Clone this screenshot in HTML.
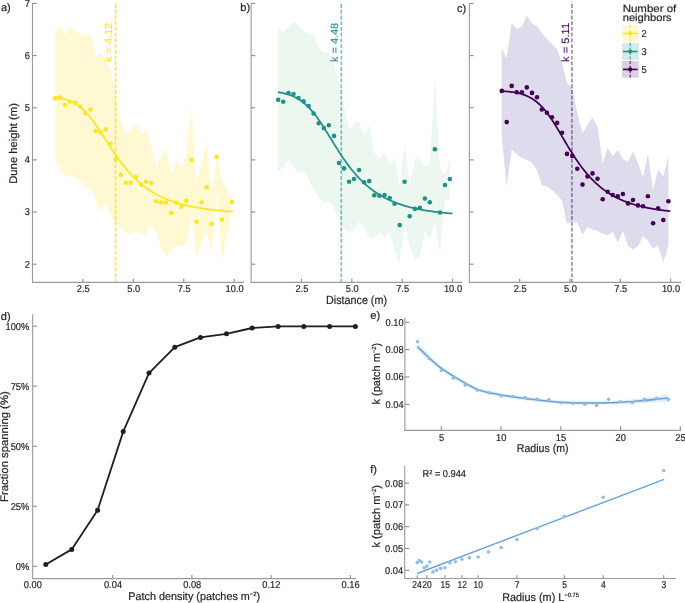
<!DOCTYPE html>
<html><head><meta charset="utf-8"><style>
html,body{margin:0;padding:0;background:#fff;}
svg{display:block;font-family:"Liberation Sans", sans-serif;will-change:transform;text-rendering:geometricPrecision;}
text{stroke-width:0.2px;paint-order:stroke;}
</style></head><body>
<svg width="685" height="603" viewBox="0 0 685 603">
<polygon points="55.3,34 60.3,25 65.4,35 70.4,26.6 75.5,30.5 80.5,34.5 85.6,36.5 90.6,33.2 95.7,60.6 100.7,51.8 105.8,61 110.8,70 115.9,98 120.9,121 126,133.8 131,129.7 136,123.5 141.1,134.6 146.1,129.3 151.2,146 156.2,168 161.3,155 166.3,149 171.4,175 176.4,160.7 181.5,166.5 186.5,155 191.6,107.3 196.6,183 201.7,163 206.7,144.3 211.8,193 216.8,157 221.9,180 226.9,190 232,199.7 232,207.5 226.9,237.3 221.9,261 216.8,192 211.8,252.2 206.7,231.2 201.7,242.6 196.6,258.3 191.6,214.5 186.5,243.4 181.5,246.4 176.4,246.4 171.4,250.4 166.3,257 161.3,247.8 156.2,233 151.2,224.2 146.1,233.8 141.1,233.8 136,231.5 131,234.5 126,232 120.9,229.6 115.9,223 110.8,216.3 105.8,201.4 100.7,211.7 95.7,200 90.6,186.5 85.6,189 80.5,180 75.5,177 70.4,176.5 65.4,175 60.3,170 55.3,162.4" fill="#fef8d3"/>
<line x1="115.6" y1="1.8" x2="115.6" y2="282.6" stroke="#fde725" stroke-width="1.6" stroke-opacity="0.95" stroke-dasharray="3.85 1.88" stroke-dashoffset="3.45"/>
<path d="M54.90,96.92 L56.40,97.15 L57.91,97.41 L59.41,97.70 L60.91,98.03 L62.41,98.39 L63.92,98.80 L65.42,99.25 L66.92,99.75 L68.42,100.31 L69.93,100.93 L71.43,101.62 L72.93,102.37 L74.43,103.20 L75.94,104.11 L77.44,105.10 L78.94,106.19 L80.44,107.36 L81.95,108.63 L83.45,110.00 L84.95,111.47 L86.45,113.03 L87.96,114.70 L89.46,116.45 L90.96,118.30 L92.46,120.24 L93.97,122.25 L95.47,124.34 L96.97,126.50 L98.47,128.71 L99.98,130.96 L101.48,133.26 L102.98,135.57 L104.48,137.91 L105.99,140.25 L107.49,142.60 L108.99,144.93 L110.49,147.24 L112.00,149.52 L113.50,151.78 L115.00,153.99 L116.50,156.16 L118.01,158.29 L119.51,160.36 L121.01,162.39 L122.51,164.35 L124.02,166.26 L125.52,168.11 L127.02,169.91 L128.52,171.64 L130.03,173.32 L131.53,174.94 L133.03,176.50 L134.53,178.00 L136.04,179.45 L137.54,180.85 L139.04,182.19 L140.54,183.48 L142.05,184.72 L143.55,185.92 L145.05,187.06 L146.55,188.16 L148.06,189.22 L149.56,190.24 L151.06,191.21 L152.56,192.15 L154.07,193.04 L155.57,193.90 L157.07,194.73 L158.57,195.52 L160.08,196.28 L161.58,197.00 L163.08,197.70 L164.58,198.37 L166.09,199.01 L167.59,199.63 L169.09,200.22 L170.59,200.78 L172.10,201.32 L173.60,201.84 L175.10,202.34 L176.60,202.81 L178.11,203.27 L179.61,203.71 L181.11,204.13 L182.61,204.53 L184.12,204.92 L185.62,205.28 L187.12,205.64 L188.62,205.98 L190.13,206.30 L191.63,206.61 L193.13,206.91 L194.63,207.20 L196.14,207.47 L197.64,207.73 L199.14,207.99 L200.64,208.23 L202.15,208.46 L203.65,208.68 L205.15,208.89 L206.65,209.09 L208.16,209.29 L209.66,209.48 L211.16,209.65 L212.66,209.83 L214.17,209.99 L215.67,210.15 L217.17,210.30 L218.67,210.44 L220.18,210.58 L221.68,210.71 L223.18,210.84 L224.68,210.96 L226.19,211.08 L227.69,211.19 L229.19,211.30 L230.69,211.40 L232.20,211.50 L233.70,211.59" fill="none" stroke="#fde725" stroke-width="1.75"/>
<circle cx="54.9" cy="98.4" r="2.3" fill="#fde725"/>
<circle cx="60.0" cy="97.6" r="2.3" fill="#fde725"/>
<circle cx="65.0" cy="105.0" r="2.3" fill="#fde725"/>
<circle cx="69.9" cy="101.7" r="2.3" fill="#fde725"/>
<circle cx="75.2" cy="102.9" r="2.3" fill="#fde725"/>
<circle cx="80.2" cy="106.8" r="2.3" fill="#fde725"/>
<circle cx="85.2" cy="113.2" r="2.3" fill="#fde725"/>
<circle cx="90.5" cy="109.5" r="2.3" fill="#fde725"/>
<circle cx="95.5" cy="131.1" r="2.3" fill="#fde725"/>
<circle cx="100.4" cy="132.1" r="2.3" fill="#fde725"/>
<circle cx="105.7" cy="129.4" r="2.3" fill="#fde725"/>
<circle cx="110.6" cy="143.7" r="2.3" fill="#fde725"/>
<circle cx="115.6" cy="159.4" r="2.3" fill="#fde725"/>
<circle cx="120.8" cy="174.9" r="2.3" fill="#fde725"/>
<circle cx="125.7" cy="182.8" r="2.3" fill="#fde725"/>
<circle cx="130.7" cy="182.8" r="2.3" fill="#fde725"/>
<circle cx="135.9" cy="177" r="2.3" fill="#fde725"/>
<circle cx="141.3" cy="184.7" r="2.3" fill="#fde725"/>
<circle cx="146.1" cy="181.7" r="2.3" fill="#fde725"/>
<circle cx="151.1" cy="183.1" r="2.3" fill="#fde725"/>
<circle cx="156.1" cy="201.3" r="2.3" fill="#fde725"/>
<circle cx="161.1" cy="202.5" r="2.3" fill="#fde725"/>
<circle cx="166" cy="202.5" r="2.3" fill="#fde725"/>
<circle cx="171.2" cy="213" r="2.3" fill="#fde725"/>
<circle cx="176.2" cy="202.7" r="2.3" fill="#fde725"/>
<circle cx="181.4" cy="206.7" r="2.3" fill="#fde725"/>
<circle cx="186.3" cy="200.8" r="2.3" fill="#fde725"/>
<circle cx="191.4" cy="159.9" r="2.3" fill="#fde725"/>
<circle cx="196.5" cy="221.8" r="2.3" fill="#fde725"/>
<circle cx="201.6" cy="202.5" r="2.3" fill="#fde725"/>
<circle cx="206.7" cy="187.2" r="2.3" fill="#fde725"/>
<circle cx="211.6" cy="223.7" r="2.3" fill="#fde725"/>
<circle cx="216.6" cy="156.9" r="2.3" fill="#fde725"/>
<circle cx="221.9" cy="219.7" r="2.3" fill="#fde725"/>
<circle cx="232" cy="201.8" r="2.3" fill="#fde725"/>
<line x1="32.5" y1="264.2" x2="36.7" y2="264.2" stroke="#8c8c8c" stroke-width="1.1"/>
<text transform="translate(30,267.5) scale(0.93,1)" font-size="10.0" text-anchor="end" fill="#231f20" stroke="#231f20">2</text>
<line x1="32.5" y1="212.05" x2="36.7" y2="212.05" stroke="#8c8c8c" stroke-width="1.1"/>
<text transform="translate(30,215.35) scale(0.93,1)" font-size="10.0" text-anchor="end" fill="#231f20" stroke="#231f20">3</text>
<line x1="32.5" y1="159.9" x2="36.7" y2="159.9" stroke="#8c8c8c" stroke-width="1.1"/>
<text transform="translate(30,163.2) scale(0.93,1)" font-size="10.0" text-anchor="end" fill="#231f20" stroke="#231f20">4</text>
<line x1="32.5" y1="107.75" x2="36.7" y2="107.75" stroke="#8c8c8c" stroke-width="1.1"/>
<text transform="translate(30,111.05) scale(0.93,1)" font-size="10.0" text-anchor="end" fill="#231f20" stroke="#231f20">5</text>
<line x1="32.5" y1="55.6" x2="36.7" y2="55.6" stroke="#8c8c8c" stroke-width="1.1"/>
<text transform="translate(30,58.9) scale(0.93,1)" font-size="10.0" text-anchor="end" fill="#231f20" stroke="#231f20">6</text>
<line x1="32.5" y1="3.45" x2="36.7" y2="3.45" stroke="#8c8c8c" stroke-width="1.1"/>
<text transform="translate(30,6.75) scale(0.93,1)" font-size="10.0" text-anchor="end" fill="#231f20" stroke="#231f20">7</text>
<line x1="82.85" y1="278.7" x2="82.85" y2="282.4" stroke="#8c8c8c" stroke-width="1.1"/>
<text transform="translate(83.25,291.7) scale(0.93,1)" font-size="10.0" text-anchor="middle" fill="#231f20" stroke="#231f20">2.5</text>
<line x1="133.3" y1="278.7" x2="133.3" y2="282.4" stroke="#8c8c8c" stroke-width="1.1"/>
<text transform="translate(133.7,291.7) scale(0.93,1)" font-size="10.0" text-anchor="middle" fill="#231f20" stroke="#231f20">5.0</text>
<line x1="183.75" y1="278.7" x2="183.75" y2="282.4" stroke="#8c8c8c" stroke-width="1.1"/>
<text transform="translate(184.15,291.7) scale(0.93,1)" font-size="10.0" text-anchor="middle" fill="#231f20" stroke="#231f20">7.5</text>
<line x1="234.2" y1="278.7" x2="234.2" y2="282.4" stroke="#8c8c8c" stroke-width="1.1"/>
<text transform="translate(234.6,291.7) scale(0.93,1)" font-size="10.0" text-anchor="middle" fill="#231f20" stroke="#231f20">10.0</text>
<line x1="32.5" y1="3" x2="32.5" y2="282.9" stroke="#9a9a9a" stroke-width="1.1"/>
<line x1="32" y1="282.4" x2="243.9" y2="282.4" stroke="#9a9a9a" stroke-width="1.1"/>
<text transform="translate(112.4,61.9) rotate(-90)" font-size="10.5" text-anchor="start" fill="#fde725" stroke="#fde725" style="stroke-width:0.15px" textLength="39" lengthAdjust="spacingAndGlyphs">k = 4.12</text>
<polygon points="277.9,28.2 283.2,32.4 288.5,26.6 294,20.8 299,25.8 303.6,31.6 308.6,33.2 313.6,35.7 318.7,48.1 323.8,53.1 328.8,51.5 334,63.1 338.9,84.6 344.1,106 349.1,129.8 354,123 359.1,121 364.1,135.6 369.2,125.6 374.2,153 379.4,159.3 384.6,152 389.7,164.8 394.6,157.5 399.7,184.9 404.6,142.9 409.7,184.9 414.9,158.4 419.8,158.4 424.9,166.6 429.8,164.8 434.9,77.4 440,168.5 445,173.7 449.9,157.5 449.9,200 445,199.5 440,253.9 434.9,222.9 429.8,238.4 424.9,230.2 419.8,257.6 414.9,259.4 409.7,246.6 404.6,224.7 399.7,263.1 394.6,250.3 389.7,232 384.6,237.5 379.4,233 374.2,238.4 369.2,237.5 364.1,228.4 359.1,222 354,229.7 349.1,232.7 344.1,229.7 338.9,219.8 334,207.3 328.8,200.7 323.8,202.3 318.7,197.4 313.6,189.9 308.6,179 303.6,171.5 299,172.1 294,168 288.5,159.7 283.2,168 277.9,171.3" fill="#ecf7ef"/>
<line x1="341.3" y1="1.8" x2="341.3" y2="282.6" stroke="#21908d" stroke-width="1.6" stroke-opacity="0.6" stroke-dasharray="3.85 1.88" stroke-dashoffset="3.45"/>
<path d="M277.90,92.19 L279.37,92.43 L280.84,92.69 L282.30,92.98 L283.77,93.30 L285.24,93.66 L286.71,94.05 L288.18,94.49 L289.64,94.97 L291.11,95.51 L292.58,96.09 L294.05,96.74 L295.52,97.45 L296.98,98.23 L298.45,99.08 L299.92,100.01 L301.39,101.02 L302.86,102.11 L304.33,103.29 L305.79,104.56 L307.26,105.92 L308.73,107.38 L310.20,108.94 L311.67,110.58 L313.13,112.33 L314.60,114.16 L316.07,116.08 L317.54,118.08 L319.01,120.15 L320.47,122.30 L321.94,124.50 L323.41,126.77 L324.88,129.07 L326.35,131.41 L327.81,133.78 L329.28,136.17 L330.75,138.56 L332.22,140.96 L333.69,143.35 L335.15,145.72 L336.62,148.06 L338.09,150.38 L339.56,152.66 L341.03,154.91 L342.49,157.11 L343.96,159.26 L345.43,161.36 L346.90,163.40 L348.37,165.39 L349.84,167.33 L351.30,169.20 L352.77,171.02 L354.24,172.78 L355.71,174.48 L357.18,176.13 L358.64,177.71 L360.11,179.25 L361.58,180.72 L363.05,182.14 L364.52,183.51 L365.98,184.83 L367.45,186.10 L368.92,187.32 L370.39,188.49 L371.86,189.62 L373.32,190.70 L374.79,191.74 L376.26,192.74 L377.73,193.70 L379.20,194.62 L380.66,195.50 L382.13,196.35 L383.60,197.16 L385.07,197.94 L386.54,198.69 L388.01,199.41 L389.47,200.10 L390.94,200.76 L392.41,201.39 L393.88,202.00 L395.35,202.58 L396.81,203.14 L398.28,203.68 L399.75,204.19 L401.22,204.68 L402.69,205.16 L404.15,205.61 L405.62,206.04 L407.09,206.46 L408.56,206.86 L410.03,207.24 L411.49,207.61 L412.96,207.96 L414.43,208.30 L415.90,208.62 L417.37,208.93 L418.83,209.22 L420.30,209.51 L421.77,209.78 L423.24,210.04 L424.71,210.29 L426.17,210.53 L427.64,210.77 L429.11,210.99 L430.58,211.20 L432.05,211.40 L433.52,211.60 L434.98,211.78 L436.45,211.96 L437.92,212.13 L439.39,212.30 L440.86,212.45 L442.32,212.60 L443.79,212.75 L445.26,212.89 L446.73,213.02 L448.20,213.15 L449.66,213.27 L451.13,213.39 L452.60,213.50" fill="none" stroke="#21908d" stroke-width="1.75"/>
<circle cx="278.2" cy="99.8" r="2.3" fill="#21908d"/>
<circle cx="283.2" cy="101.8" r="2.3" fill="#21908d"/>
<circle cx="288.5" cy="93" r="2.3" fill="#21908d"/>
<circle cx="293.5" cy="94.1" r="2.3" fill="#21908d"/>
<circle cx="298.5" cy="98" r="2.3" fill="#21908d"/>
<circle cx="303.6" cy="101.4" r="2.3" fill="#21908d"/>
<circle cx="308.6" cy="106" r="2.3" fill="#21908d"/>
<circle cx="313.6" cy="113.5" r="2.3" fill="#21908d"/>
<circle cx="318.7" cy="123.2" r="2.3" fill="#21908d"/>
<circle cx="323.8" cy="128.1" r="2.3" fill="#21908d"/>
<circle cx="328.8" cy="125.3" r="2.3" fill="#21908d"/>
<circle cx="334" cy="135.9" r="2.3" fill="#21908d"/>
<circle cx="338.9" cy="163" r="2.3" fill="#21908d"/>
<circle cx="344.1" cy="168.4" r="2.3" fill="#21908d"/>
<circle cx="349.1" cy="181.7" r="2.3" fill="#21908d"/>
<circle cx="354" cy="179" r="2.3" fill="#21908d"/>
<circle cx="359.1" cy="170" r="2.3" fill="#21908d"/>
<circle cx="364.1" cy="182.2" r="2.3" fill="#21908d"/>
<circle cx="369.2" cy="181.1" r="2.3" fill="#21908d"/>
<circle cx="374.2" cy="195.2" r="2.3" fill="#21908d"/>
<circle cx="379.4" cy="195.8" r="2.3" fill="#21908d"/>
<circle cx="384.6" cy="195" r="2.3" fill="#21908d"/>
<circle cx="389.7" cy="198" r="2.3" fill="#21908d"/>
<circle cx="394.6" cy="203.8" r="2.3" fill="#21908d"/>
<circle cx="399.7" cy="225.1" r="2.3" fill="#21908d"/>
<circle cx="404.6" cy="181.8" r="2.3" fill="#21908d"/>
<circle cx="409.7" cy="216.2" r="2.3" fill="#21908d"/>
<circle cx="414.9" cy="208.9" r="2.3" fill="#21908d"/>
<circle cx="419.8" cy="207.8" r="2.3" fill="#21908d"/>
<circle cx="424.9" cy="198.6" r="2.3" fill="#21908d"/>
<circle cx="429.8" cy="202.3" r="2.3" fill="#21908d"/>
<circle cx="434.9" cy="149.3" r="2.3" fill="#21908d"/>
<circle cx="440" cy="212.5" r="2.3" fill="#21908d"/>
<circle cx="445" cy="185" r="2.3" fill="#21908d"/>
<circle cx="449.9" cy="179.1" r="2.3" fill="#21908d"/>
<line x1="251.1" y1="264.2" x2="255.3" y2="264.2" stroke="#8c8c8c" stroke-width="1.1"/>
<line x1="251.1" y1="212.05" x2="255.3" y2="212.05" stroke="#8c8c8c" stroke-width="1.1"/>
<line x1="251.1" y1="159.9" x2="255.3" y2="159.9" stroke="#8c8c8c" stroke-width="1.1"/>
<line x1="251.1" y1="107.75" x2="255.3" y2="107.75" stroke="#8c8c8c" stroke-width="1.1"/>
<line x1="251.1" y1="55.6" x2="255.3" y2="55.6" stroke="#8c8c8c" stroke-width="1.1"/>
<line x1="251.1" y1="3.45" x2="255.3" y2="3.45" stroke="#8c8c8c" stroke-width="1.1"/>
<line x1="301.48" y1="278.7" x2="301.48" y2="282.4" stroke="#8c8c8c" stroke-width="1.1"/>
<text transform="translate(301.88,291.7) scale(0.93,1)" font-size="10.0" text-anchor="middle" fill="#231f20" stroke="#231f20">2.5</text>
<line x1="351.85" y1="278.7" x2="351.85" y2="282.4" stroke="#8c8c8c" stroke-width="1.1"/>
<text transform="translate(352.25,291.7) scale(0.93,1)" font-size="10.0" text-anchor="middle" fill="#231f20" stroke="#231f20">5.0</text>
<line x1="402.23" y1="278.7" x2="402.23" y2="282.4" stroke="#8c8c8c" stroke-width="1.1"/>
<text transform="translate(402.62,291.7) scale(0.93,1)" font-size="10.0" text-anchor="middle" fill="#231f20" stroke="#231f20">7.5</text>
<line x1="452.6" y1="278.7" x2="452.6" y2="282.4" stroke="#8c8c8c" stroke-width="1.1"/>
<text transform="translate(453,291.7) scale(0.93,1)" font-size="10.0" text-anchor="middle" fill="#231f20" stroke="#231f20">10.0</text>
<line x1="251.1" y1="3" x2="251.1" y2="282.9" stroke="#9a9a9a" stroke-width="1.1"/>
<line x1="250.6" y1="282.4" x2="462.5" y2="282.4" stroke="#9a9a9a" stroke-width="1.1"/>
<text transform="translate(338.1,61.9) rotate(-90)" font-size="10.5" text-anchor="start" fill="#21908d" stroke="#21908d" style="stroke-width:0.15px" textLength="39" lengthAdjust="spacingAndGlyphs">k = 4.48</text>
<polygon points="501.6,49 506.6,58.1 511.7,22.9 516.7,29.1 521.8,26.6 526.8,15.5 532,23.6 537,25.8 542,33.2 547,39 552,44 557.1,49.8 562.1,63.1 567,83 572.3,87.9 577.3,113 582.5,133.2 587.5,125 592.5,117.4 597.5,126.5 602.7,163 607.7,148 612.7,156.4 617.8,149.8 622.9,159 628,161.6 633,151.4 638,163 643,177 648,153.8 653,190 658.2,170 663.3,176.3 668.4,156.4 668.4,245.6 663.3,262.5 658.2,245.6 653,248.6 648,240.6 643,235.7 638,246.6 633,249.6 628,246 622.9,230.7 617.8,242.6 612.7,231.7 607.7,235.3 602.7,233.7 597.5,230.7 592.5,229.7 587.5,226.7 582.5,234.7 577.3,222.7 572.3,221.7 567,223.7 562.1,201 557.1,194.5 552,190.4 547,186.3 542,185.5 537,170 532,162.7 526.8,159.8 521.8,158.1 516.7,154 511.7,149.8 506.6,186.3 501.6,135" fill="#dedbec"/>
<line x1="571.9" y1="1.8" x2="571.9" y2="282.6" stroke="#440154" stroke-width="1.6" stroke-opacity="0.5" stroke-dasharray="3.85 1.88" stroke-dashoffset="3.45"/>
<path d="M500.50,90.98 L501.93,91.06 L503.36,91.16 L504.78,91.26 L506.21,91.38 L507.64,91.52 L509.07,91.67 L510.49,91.84 L511.92,92.03 L513.35,92.24 L514.78,92.47 L516.21,92.74 L517.63,93.04 L519.06,93.37 L520.49,93.74 L521.92,94.15 L523.34,94.60 L524.77,95.11 L526.20,95.67 L527.63,96.29 L529.05,96.98 L530.48,97.73 L531.91,98.56 L533.34,99.47 L534.77,100.46 L536.19,101.54 L537.62,102.71 L539.05,103.98 L540.48,105.35 L541.90,106.81 L543.33,108.38 L544.76,110.05 L546.19,111.81 L547.62,113.67 L549.04,115.63 L550.47,117.67 L551.90,119.79 L553.33,121.98 L554.75,124.23 L556.18,126.54 L557.61,128.90 L559.04,131.29 L560.46,133.71 L561.89,136.14 L563.32,138.57 L564.75,141.01 L566.18,143.43 L567.60,145.83 L569.03,148.20 L570.46,150.53 L571.89,152.83 L573.31,155.08 L574.74,157.29 L576.17,159.44 L577.60,161.53 L579.03,163.57 L580.45,165.55 L581.88,167.47 L583.31,169.33 L584.74,171.13 L586.16,172.86 L587.59,174.54 L589.02,176.16 L590.45,177.72 L591.87,179.22 L593.30,180.67 L594.73,182.06 L596.16,183.39 L597.59,184.68 L599.01,185.91 L600.44,187.10 L601.87,188.24 L603.30,189.33 L604.72,190.38 L606.15,191.39 L607.58,192.36 L609.01,193.28 L610.44,194.17 L611.86,195.03 L613.29,195.84 L614.72,196.63 L616.15,197.38 L617.57,198.10 L619.00,198.79 L620.43,199.45 L621.86,200.08 L623.28,200.69 L624.71,201.27 L626.14,201.83 L627.57,202.36 L629.00,202.87 L630.42,203.36 L631.85,203.83 L633.28,204.28 L634.71,204.72 L636.13,205.13 L637.56,205.52 L638.99,205.90 L640.42,206.27 L641.85,206.61 L643.27,206.95 L644.70,207.27 L646.13,207.57 L647.56,207.87 L648.98,208.15 L650.41,208.42 L651.84,208.67 L653.27,208.92 L654.69,209.16 L656.12,209.38 L657.55,209.60 L658.98,209.81 L660.41,210.01 L661.83,210.20 L663.26,210.38 L664.69,210.55 L666.12,210.72 L667.54,210.88 L668.97,211.03 L670.40,211.18" fill="none" stroke="#440154" stroke-width="1.75"/>
<circle cx="501.8" cy="90.9" r="2.3" fill="#440154"/>
<circle cx="506.7" cy="122.1" r="2.3" fill="#440154"/>
<circle cx="511.7" cy="85.9" r="2.3" fill="#440154"/>
<circle cx="516.7" cy="92.2" r="2.3" fill="#440154"/>
<circle cx="521.9" cy="92.2" r="2.3" fill="#440154"/>
<circle cx="526.8" cy="87.4" r="2.3" fill="#440154"/>
<circle cx="532" cy="92.9" r="2.3" fill="#440154"/>
<circle cx="537" cy="97.2" r="2.3" fill="#440154"/>
<circle cx="541.8" cy="109.5" r="2.3" fill="#440154"/>
<circle cx="546.9" cy="112.8" r="2.3" fill="#440154"/>
<circle cx="552" cy="117.3" r="2.3" fill="#440154"/>
<circle cx="557.1" cy="122.9" r="2.3" fill="#440154"/>
<circle cx="562.1" cy="132.7" r="2.3" fill="#440154"/>
<circle cx="567" cy="153.9" r="2.3" fill="#440154"/>
<circle cx="572.3" cy="155.9" r="2.3" fill="#440154"/>
<circle cx="577.3" cy="168.8" r="2.3" fill="#440154"/>
<circle cx="582.5" cy="184.6" r="2.3" fill="#440154"/>
<circle cx="587.5" cy="176.4" r="2.3" fill="#440154"/>
<circle cx="592.5" cy="173.4" r="2.3" fill="#440154"/>
<circle cx="597.5" cy="178.7" r="2.3" fill="#440154"/>
<circle cx="602.7" cy="199.2" r="2.3" fill="#440154"/>
<circle cx="607.7" cy="191.7" r="2.3" fill="#440154"/>
<circle cx="612.7" cy="195" r="2.3" fill="#440154"/>
<circle cx="617.8" cy="196.2" r="2.3" fill="#440154"/>
<circle cx="622.9" cy="194" r="2.3" fill="#440154"/>
<circle cx="628" cy="203.4" r="2.3" fill="#440154"/>
<circle cx="633" cy="200" r="2.3" fill="#440154"/>
<circle cx="638" cy="205.4" r="2.3" fill="#440154"/>
<circle cx="643" cy="206.2" r="2.3" fill="#440154"/>
<circle cx="647.9" cy="196.3" r="2.3" fill="#440154"/>
<circle cx="653.1" cy="223.3" r="2.3" fill="#440154"/>
<circle cx="658.1" cy="208.2" r="2.3" fill="#440154"/>
<circle cx="663.3" cy="220" r="2.3" fill="#440154"/>
<circle cx="668.4" cy="201.2" r="2.3" fill="#440154"/>
<line x1="469.4" y1="264.2" x2="473.6" y2="264.2" stroke="#8c8c8c" stroke-width="1.1"/>
<line x1="469.4" y1="212.05" x2="473.6" y2="212.05" stroke="#8c8c8c" stroke-width="1.1"/>
<line x1="469.4" y1="159.9" x2="473.6" y2="159.9" stroke="#8c8c8c" stroke-width="1.1"/>
<line x1="469.4" y1="107.75" x2="473.6" y2="107.75" stroke="#8c8c8c" stroke-width="1.1"/>
<line x1="469.4" y1="55.6" x2="473.6" y2="55.6" stroke="#8c8c8c" stroke-width="1.1"/>
<line x1="469.4" y1="3.45" x2="473.6" y2="3.45" stroke="#8c8c8c" stroke-width="1.1"/>
<line x1="519.7" y1="278.7" x2="519.7" y2="282.4" stroke="#8c8c8c" stroke-width="1.1"/>
<text transform="translate(520.1,291.7) scale(0.93,1)" font-size="10.0" text-anchor="middle" fill="#231f20" stroke="#231f20">2.5</text>
<line x1="570" y1="278.7" x2="570" y2="282.4" stroke="#8c8c8c" stroke-width="1.1"/>
<text transform="translate(570.4,291.7) scale(0.93,1)" font-size="10.0" text-anchor="middle" fill="#231f20" stroke="#231f20">5.0</text>
<line x1="620.3" y1="278.7" x2="620.3" y2="282.4" stroke="#8c8c8c" stroke-width="1.1"/>
<text transform="translate(620.7,291.7) scale(0.93,1)" font-size="10.0" text-anchor="middle" fill="#231f20" stroke="#231f20">7.5</text>
<line x1="670.6" y1="278.7" x2="670.6" y2="282.4" stroke="#8c8c8c" stroke-width="1.1"/>
<text transform="translate(671,291.7) scale(0.93,1)" font-size="10.0" text-anchor="middle" fill="#231f20" stroke="#231f20">10.0</text>
<line x1="469.4" y1="3" x2="469.4" y2="282.9" stroke="#9a9a9a" stroke-width="1.1"/>
<line x1="468.9" y1="282.4" x2="680.9" y2="282.4" stroke="#9a9a9a" stroke-width="1.1"/>
<text transform="translate(568.7,61.9) rotate(-90)" font-size="10.5" text-anchor="start" fill="#440154" stroke="#440154" style="stroke-width:0.15px" textLength="39" lengthAdjust="spacingAndGlyphs">k = 5.11</text>
<text x="1" y="11" font-size="11" text-anchor="start" fill="#231f20" stroke="#231f20">a)</text>
<text x="240.3" y="10.9" font-size="11" text-anchor="start" fill="#231f20" stroke="#231f20">b)</text>
<text x="457" y="12" font-size="11" text-anchor="start" fill="#231f20" stroke="#231f20">c)</text>
<text transform="translate(17.3,143.4) rotate(-90)" font-size="11.2" text-anchor="middle" fill="#231f20" stroke="#231f20" textLength="80.8" lengthAdjust="spacingAndGlyphs">Dune height (m)</text>
<text x="356.5" y="303.6" font-size="11.8" text-anchor="middle" fill="#231f20" stroke="#231f20" textLength="61" lengthAdjust="spacingAndGlyphs">Distance (m)</text>
<text x="622.7" y="11.9" font-size="10.4" text-anchor="start" fill="#231f20" stroke="#231f20" textLength="53.6" lengthAdjust="spacingAndGlyphs">Number of</text>
<text x="622.7" y="21" font-size="10.4" text-anchor="start" fill="#231f20" stroke="#231f20" textLength="49" lengthAdjust="spacingAndGlyphs">neighbors</text>
<rect x="622" y="25" width="16.7" height="16.7" fill="#fef8d4"/>
<line x1="630.2" y1="25" x2="630.2" y2="41.7" stroke="#fde725" stroke-width="1.2" stroke-opacity="0.75" stroke-dasharray="3 1.5"/>
<line x1="623" y1="33.4" x2="637.6" y2="33.4" stroke="#fde725" stroke-width="1.6"/>
<circle cx="630.2" cy="33.4" r="2.1" fill="#fde725"/>
<text transform="translate(641.6,36.8) scale(0.93,1)" font-size="10.0" text-anchor="start" fill="#231f20" stroke="#231f20">2</text>
<rect x="622" y="43.1" width="16.7" height="16.7" fill="#d6eae9"/>
<line x1="630.2" y1="43.1" x2="630.2" y2="59.8" stroke="#21908d" stroke-width="1.2" stroke-opacity="0.75" stroke-dasharray="3 1.5"/>
<line x1="623" y1="51.5" x2="637.6" y2="51.5" stroke="#21908d" stroke-width="1.6"/>
<circle cx="630.2" cy="51.5" r="2.1" fill="#21908d"/>
<text transform="translate(641.6,54.9) scale(0.93,1)" font-size="10.0" text-anchor="start" fill="#231f20" stroke="#231f20">3</text>
<rect x="622" y="61" width="16.7" height="16.7" fill="#dcd0e1"/>
<line x1="630.2" y1="61" x2="630.2" y2="77.7" stroke="#440154" stroke-width="1.2" stroke-opacity="0.75" stroke-dasharray="3 1.5"/>
<line x1="623" y1="69.4" x2="637.6" y2="69.4" stroke="#440154" stroke-width="1.6"/>
<circle cx="630.2" cy="69.4" r="2.1" fill="#440154"/>
<text transform="translate(641.6,72.8) scale(0.93,1)" font-size="10.0" text-anchor="start" fill="#231f20" stroke="#231f20">5</text>
<line x1="32.7" y1="566.3" x2="36.9" y2="566.3" stroke="#8c8c8c" stroke-width="1.1"/>
<text transform="translate(29.3,569.7) scale(0.93,1)" font-size="10.0" text-anchor="end" fill="#231f20" stroke="#231f20">0%</text>
<line x1="32.7" y1="506.25" x2="36.9" y2="506.25" stroke="#8c8c8c" stroke-width="1.1"/>
<text transform="translate(29.3,509.65) scale(0.93,1)" font-size="10.0" text-anchor="end" fill="#231f20" stroke="#231f20">25%</text>
<line x1="32.7" y1="446.2" x2="36.9" y2="446.2" stroke="#8c8c8c" stroke-width="1.1"/>
<text transform="translate(29.3,449.6) scale(0.93,1)" font-size="10.0" text-anchor="end" fill="#231f20" stroke="#231f20">50%</text>
<line x1="32.7" y1="386.15" x2="36.9" y2="386.15" stroke="#8c8c8c" stroke-width="1.1"/>
<text transform="translate(29.3,389.55) scale(0.93,1)" font-size="10.0" text-anchor="end" fill="#231f20" stroke="#231f20">75%</text>
<line x1="32.7" y1="326.1" x2="36.9" y2="326.1" stroke="#8c8c8c" stroke-width="1.1"/>
<text transform="translate(29.3,329.5) scale(0.93,1)" font-size="10.0" text-anchor="end" fill="#231f20" stroke="#231f20">100%</text>
<text transform="translate(32.9,587.6) scale(0.93,1)" font-size="10.0" text-anchor="middle" fill="#231f20" stroke="#231f20">0.00</text>
<line x1="112.7" y1="574.9" x2="112.7" y2="578.6" stroke="#8c8c8c" stroke-width="1.1"/>
<text transform="translate(113,587.6) scale(0.93,1)" font-size="10.0" text-anchor="middle" fill="#231f20" stroke="#231f20">0.04</text>
<line x1="191.9" y1="574.9" x2="191.9" y2="578.6" stroke="#8c8c8c" stroke-width="1.1"/>
<text transform="translate(192.2,587.6) scale(0.93,1)" font-size="10.0" text-anchor="middle" fill="#231f20" stroke="#231f20">0.08</text>
<line x1="271.1" y1="574.9" x2="271.1" y2="578.6" stroke="#8c8c8c" stroke-width="1.1"/>
<text transform="translate(271.4,587.6) scale(0.93,1)" font-size="10.0" text-anchor="middle" fill="#231f20" stroke="#231f20">0.12</text>
<line x1="350.3" y1="574.9" x2="350.3" y2="578.6" stroke="#8c8c8c" stroke-width="1.1"/>
<text transform="translate(350.6,587.6) scale(0.93,1)" font-size="10.0" text-anchor="middle" fill="#231f20" stroke="#231f20">0.16</text>
<line x1="32.7" y1="314.3" x2="32.7" y2="579.1" stroke="#9a9a9a" stroke-width="1.1"/>
<line x1="32.2" y1="578.6" x2="356.1" y2="578.6" stroke="#9a9a9a" stroke-width="1.1"/>
<polyline points="45.8,564.5 71.7,549.4 97.6,510.2 123.2,431.59999999999997 149.0,373.09999999999997 174.8,347.2 200.4,337.4 226.5,333.79999999999995 252.10000000000002,328.0 278.1,326.4 303.8,326.4 329.6,326.4 355.40000000000003,326.4" fill="none" stroke="#1f1f1f" stroke-width="1.8" stroke-linejoin="round"/>
<circle cx="45.8" cy="564.5" r="2.5" fill="#1f1f1f"/>
<circle cx="71.7" cy="549.4" r="2.5" fill="#1f1f1f"/>
<circle cx="97.6" cy="510.2" r="2.5" fill="#1f1f1f"/>
<circle cx="123.2" cy="431.59999999999997" r="2.5" fill="#1f1f1f"/>
<circle cx="149.0" cy="373.09999999999997" r="2.5" fill="#1f1f1f"/>
<circle cx="174.8" cy="347.2" r="2.5" fill="#1f1f1f"/>
<circle cx="200.4" cy="337.4" r="2.5" fill="#1f1f1f"/>
<circle cx="226.5" cy="333.79999999999995" r="2.5" fill="#1f1f1f"/>
<circle cx="252.10000000000002" cy="328.0" r="2.5" fill="#1f1f1f"/>
<circle cx="278.1" cy="326.4" r="2.5" fill="#1f1f1f"/>
<circle cx="303.8" cy="326.4" r="2.5" fill="#1f1f1f"/>
<circle cx="329.6" cy="326.4" r="2.5" fill="#1f1f1f"/>
<circle cx="355.40000000000003" cy="326.4" r="2.5" fill="#1f1f1f"/>
<text x="0.8" y="320" font-size="11" text-anchor="start" fill="#231f20" stroke="#231f20">d)</text>
<text transform="translate(8.4,446.6) rotate(-90)" font-size="11" text-anchor="middle" fill="#231f20" stroke="#231f20" textLength="110.6" lengthAdjust="spacingAndGlyphs">Fraction spanning (%)</text>
<text x="128.3" y="599.9" font-size="11.2" fill="#231f20" stroke="#231f20" textLength="131.8" lengthAdjust="spacingAndGlyphs">Patch density (patches m<tspan font-size="6" dy="-3.6">−2</tspan><tspan dy="3.6">)</tspan></text>
<line x1="404.9" y1="404.4" x2="409.3" y2="404.4" stroke="#8c8c8c" stroke-width="1.1"/>
<text transform="translate(403.6,407.8) scale(0.93,1)" font-size="10.0" text-anchor="end" fill="#231f20" stroke="#231f20">0.04</text>
<line x1="404.9" y1="377" x2="409.3" y2="377" stroke="#8c8c8c" stroke-width="1.1"/>
<text transform="translate(403.6,380.4) scale(0.93,1)" font-size="10.0" text-anchor="end" fill="#231f20" stroke="#231f20">0.06</text>
<line x1="404.9" y1="349.6" x2="409.3" y2="349.6" stroke="#8c8c8c" stroke-width="1.1"/>
<text transform="translate(403.6,353) scale(0.93,1)" font-size="10.0" text-anchor="end" fill="#231f20" stroke="#231f20">0.08</text>
<line x1="404.9" y1="322.2" x2="409.3" y2="322.2" stroke="#8c8c8c" stroke-width="1.1"/>
<text transform="translate(403.6,325.6) scale(0.93,1)" font-size="10.0" text-anchor="end" fill="#231f20" stroke="#231f20">0.10</text>
<line x1="441.3" y1="426.3" x2="441.3" y2="430.4" stroke="#8c8c8c" stroke-width="1.1"/>
<text transform="translate(441.5,440.7) scale(0.93,1)" font-size="10.0" text-anchor="middle" fill="#231f20" stroke="#231f20">5</text>
<line x1="501.05" y1="426.3" x2="501.05" y2="430.4" stroke="#8c8c8c" stroke-width="1.1"/>
<text transform="translate(501.25,440.7) scale(0.93,1)" font-size="10.0" text-anchor="middle" fill="#231f20" stroke="#231f20">10</text>
<line x1="560.8" y1="426.3" x2="560.8" y2="430.4" stroke="#8c8c8c" stroke-width="1.1"/>
<text transform="translate(561,440.7) scale(0.93,1)" font-size="10.0" text-anchor="middle" fill="#231f20" stroke="#231f20">15</text>
<line x1="620.55" y1="426.3" x2="620.55" y2="430.4" stroke="#8c8c8c" stroke-width="1.1"/>
<text transform="translate(620.75,440.7) scale(0.93,1)" font-size="10.0" text-anchor="middle" fill="#231f20" stroke="#231f20">20</text>
<line x1="680.3" y1="426.3" x2="680.3" y2="430.4" stroke="#8c8c8c" stroke-width="1.1"/>
<text transform="translate(680.5,440.7) scale(0.93,1)" font-size="10.0" text-anchor="middle" fill="#231f20" stroke="#231f20">25</text>
<line x1="404.9" y1="317.5" x2="404.9" y2="430.9" stroke="#9a9a9a" stroke-width="1.1"/>
<line x1="404.4" y1="430.4" x2="681" y2="430.4" stroke="#9a9a9a" stroke-width="1.1"/>
<polygon points="415.34,348.43 417.94,350.87 420.54,353.30 423.14,355.71 425.74,358.09 428.35,360.43 430.97,362.70 433.59,364.91 436.22,367.02 438.86,369.01 441.50,370.87 444.13,372.59 446.74,374.21 449.34,375.76 451.88,377.32 454.42,378.87 456.97,380.42 459.51,381.95 462.06,383.47 464.61,384.96 467.17,386.43 469.75,387.83 472.34,389.15 474.95,390.35 477.57,391.40 480.20,392.29 482.81,393.04 485.40,393.68 487.96,394.26 490.52,394.79 493.07,395.31 495.62,395.81 498.17,396.28 500.72,396.74 503.27,397.17 505.82,397.59 508.37,397.99 510.92,398.37 513.47,398.74 516.01,399.10 518.56,399.45 521.10,399.78 523.64,400.10 526.19,400.42 528.73,400.73 531.27,401.03 533.81,401.33 536.35,401.63 538.88,401.93 541.42,402.22 543.97,402.51 546.51,402.80 549.06,403.07 551.60,403.33 554.15,403.58 556.71,403.80 559.26,404.00 561.82,404.17 564.37,404.32 566.93,404.44 569.48,404.54 572.03,404.62 574.58,404.68 577.12,404.73 579.67,404.77 582.21,404.79 584.76,404.81 587.30,404.82 589.84,404.83 592.38,404.83 594.93,404.82 597.47,404.80 600.02,404.77 602.56,404.73 605.11,404.68 607.65,404.62 610.20,404.54 612.75,404.46 615.30,404.38 617.84,404.30 620.39,404.21 622.94,404.11 625.49,404.01 628.04,403.90 630.59,403.78 633.14,403.66 635.69,403.53 638.25,403.39 640.80,403.25 643.35,403.10 645.90,402.95 648.46,402.79 651.02,402.62 653.57,402.45 656.13,402.26 658.69,402.08 661.24,401.89 663.80,401.69 666.35,401.50 668.90,401.28 668.10,394.53 665.58,394.91 663.05,395.31 660.53,395.70 658.02,396.08 655.50,396.45 652.98,396.81 650.46,397.16 647.94,397.50 645.42,397.83 642.90,398.14 640.38,398.44 637.86,398.73 635.33,399.01 632.81,399.27 630.29,399.52 627.76,399.76 625.24,399.98 622.71,400.19 620.19,400.38 617.66,400.55 615.13,400.70 612.61,400.83 610.08,400.94 607.55,401.02 605.02,401.08 602.50,401.14 599.97,401.17 597.44,401.20 594.91,401.22 592.38,401.23 589.84,401.23 587.31,401.22 584.78,401.21 582.25,401.19 579.71,401.17 577.18,401.13 574.66,401.08 572.13,401.02 569.61,400.94 567.08,400.84 564.56,400.72 562.04,400.58 559.52,400.41 557.00,400.21 554.48,399.99 551.96,399.75 549.43,399.49 546.90,399.22 544.37,398.94 541.84,398.65 539.30,398.35 536.77,398.05 534.23,397.75 531.69,397.46 529.16,397.15 526.63,396.85 524.09,396.53 521.56,396.21 519.03,395.88 516.50,395.53 513.97,395.18 511.45,394.81 508.92,394.43 506.39,394.04 503.87,393.62 501.34,393.19 498.82,392.74 496.30,392.27 493.77,391.78 491.25,391.27 488.73,390.74 486.22,390.18 483.74,389.56 481.27,388.85 478.82,388.02 476.37,387.04 473.91,385.91 471.42,384.65 468.92,383.28 466.41,381.85 463.89,380.37 461.36,378.86 458.83,377.34 456.30,375.80 453.76,374.25 451.23,372.70 448.76,371.06 446.30,369.36 443.85,367.58 441.41,365.68 438.98,363.65 436.53,361.49 434.08,359.23 431.62,356.89 429.15,354.48 426.69,352.02 424.21,349.52 421.74,346.99 419.26,344.45" fill="#d8e7f5" opacity="0.8"/>
<path d="M417.30,346.44 L419.84,348.93 L422.37,351.41 L424.91,353.86 L427.45,356.29 L429.99,358.66 L432.52,360.97 L435.06,363.20 L437.60,365.33 L440.14,367.34 L442.67,369.22 L445.21,370.98 L447.75,372.63 L450.29,374.23 L452.82,375.78 L455.36,377.33 L457.90,378.88 L460.44,380.41 L462.97,381.92 L465.51,383.41 L468.05,384.86 L470.58,386.24 L473.12,387.53 L475.66,388.70 L478.20,389.71 L480.73,390.57 L483.27,391.30 L485.81,391.93 L488.35,392.50 L490.88,393.03 L493.42,393.54 L495.96,394.04 L498.50,394.51 L501.03,394.97 L503.57,395.40 L506.11,395.81 L508.65,396.21 L511.18,396.59 L513.72,396.96 L516.26,397.32 L518.79,397.66 L521.33,397.99 L523.87,398.32 L526.41,398.63 L528.94,398.94 L531.48,399.24 L534.02,399.54 L536.56,399.84 L539.09,400.14 L541.63,400.43 L544.17,400.73 L546.71,401.01 L549.24,401.28 L551.78,401.54 L554.32,401.78 L556.86,402.01 L559.39,402.20 L561.93,402.38 L564.47,402.52 L567.01,402.64 L569.54,402.74 L572.08,402.82 L574.62,402.88 L577.15,402.93 L579.69,402.97 L582.23,402.99 L584.77,403.01 L587.30,403.02 L589.84,403.03 L592.38,403.03 L594.92,403.02 L597.45,403.00 L599.99,402.97 L602.53,402.93 L605.07,402.88 L607.60,402.82 L610.14,402.74 L612.68,402.65 L615.22,402.54 L617.75,402.42 L620.29,402.29 L622.83,402.15 L625.36,401.99 L627.90,401.83 L630.44,401.65 L632.98,401.47 L635.51,401.27 L638.05,401.06 L640.59,400.85 L643.13,400.62 L645.66,400.39 L648.20,400.14 L650.74,399.89 L653.28,399.63 L655.81,399.36 L658.35,399.08 L660.89,398.79 L663.43,398.50 L665.96,398.20 L668.50,397.91" fill="none" stroke="#66a3d8" stroke-width="1.55"/>
<circle cx="417.4" cy="341.7" r="1.8" fill="#92bee5"/>
<circle cx="429.35" cy="358.5" r="1.8" fill="#92bee5"/>
<circle cx="441.3" cy="370.5" r="1.8" fill="#92bee5"/>
<circle cx="453.25" cy="378.1" r="1.8" fill="#92bee5"/>
<circle cx="465.2" cy="385.1" r="1.8" fill="#92bee5"/>
<circle cx="477.15" cy="390.1" r="1.8" fill="#92bee5"/>
<circle cx="489.1" cy="392.9" r="1.8" fill="#92bee5"/>
<circle cx="501.05" cy="396" r="1.8" fill="#92bee5"/>
<circle cx="513" cy="396.5" r="1.8" fill="#92bee5"/>
<circle cx="524.95" cy="397.5" r="1.8" fill="#92bee5"/>
<circle cx="536.9" cy="399" r="1.8" fill="#92bee5"/>
<circle cx="548.85" cy="399.6" r="1.8" fill="#92bee5"/>
<circle cx="560.8" cy="402.8" r="1.8" fill="#92bee5"/>
<circle cx="572.75" cy="403.2" r="1.8" fill="#92bee5"/>
<circle cx="584.7" cy="404.3" r="1.8" fill="#92bee5"/>
<circle cx="596.65" cy="405.4" r="1.8" fill="#92bee5"/>
<circle cx="608.6" cy="399.2" r="1.8" fill="#92bee5"/>
<circle cx="620.55" cy="401.8" r="1.8" fill="#92bee5"/>
<circle cx="632.5" cy="402.8" r="1.8" fill="#92bee5"/>
<circle cx="644.45" cy="399.2" r="1.8" fill="#92bee5"/>
<circle cx="656.4" cy="398.2" r="1.8" fill="#92bee5"/>
<circle cx="668.35" cy="399.6" r="1.8" fill="#92bee5"/>
<text x="370.3" y="319.4" font-size="11" text-anchor="start" fill="#231f20" stroke="#231f20">e)</text>
<text transform="translate(380,404.6) rotate(-90)" font-size="11.2" fill="#231f20" stroke="#231f20" textLength="61.9" lengthAdjust="spacingAndGlyphs">k (patch m<tspan font-size="6" dy="-3.6">−2</tspan><tspan dy="3.6">)</tspan></text>
<text x="516.8" y="452.2" font-size="11.3" text-anchor="start" fill="#231f20" stroke="#231f20" textLength="51.7" lengthAdjust="spacingAndGlyphs">Radius (m)</text>
<line x1="404.7" y1="570.3" x2="409.1" y2="570.3" stroke="#8c8c8c" stroke-width="1.1"/>
<text transform="translate(403.2,573.7) scale(0.93,1)" font-size="10.0" text-anchor="end" fill="#231f20" stroke="#231f20">0.04</text>
<line x1="404.7" y1="548.5" x2="409.1" y2="548.5" stroke="#8c8c8c" stroke-width="1.1"/>
<text transform="translate(403.2,551.9) scale(0.93,1)" font-size="10.0" text-anchor="end" fill="#231f20" stroke="#231f20">0.05</text>
<line x1="404.7" y1="526.7" x2="409.1" y2="526.7" stroke="#8c8c8c" stroke-width="1.1"/>
<text transform="translate(403.2,530.1) scale(0.93,1)" font-size="10.0" text-anchor="end" fill="#231f20" stroke="#231f20">0.06</text>
<line x1="404.7" y1="504.9" x2="409.1" y2="504.9" stroke="#8c8c8c" stroke-width="1.1"/>
<text transform="translate(403.2,508.3) scale(0.93,1)" font-size="10.0" text-anchor="end" fill="#231f20" stroke="#231f20">0.07</text>
<line x1="404.7" y1="483.1" x2="409.1" y2="483.1" stroke="#8c8c8c" stroke-width="1.1"/>
<text transform="translate(403.2,486.5) scale(0.93,1)" font-size="10.0" text-anchor="end" fill="#231f20" stroke="#231f20">0.08</text>
<line x1="417.2" y1="575.2" x2="417.2" y2="578.5" stroke="#8c8c8c" stroke-width="1.1"/>
<text transform="translate(416.9,587.9) scale(0.85,1)" font-size="10.0" text-anchor="middle" fill="#231f20" stroke="#231f20">24</text>
<line x1="426.81" y1="575.2" x2="426.81" y2="578.5" stroke="#8c8c8c" stroke-width="1.1"/>
<text transform="translate(427.01,587.9) scale(0.85,1)" font-size="10.0" text-anchor="middle" fill="#231f20" stroke="#231f20">20</text>
<line x1="444.93" y1="575.2" x2="444.93" y2="578.5" stroke="#8c8c8c" stroke-width="1.1"/>
<text transform="translate(445.13,587.9) scale(0.85,1)" font-size="10.0" text-anchor="middle" fill="#231f20" stroke="#231f20">15</text>
<line x1="461.94" y1="575.2" x2="461.94" y2="578.5" stroke="#8c8c8c" stroke-width="1.1"/>
<text transform="translate(462.14,587.9) scale(0.85,1)" font-size="10.0" text-anchor="middle" fill="#231f20" stroke="#231f20">12</text>
<line x1="478.11" y1="575.2" x2="478.11" y2="578.5" stroke="#8c8c8c" stroke-width="1.1"/>
<text transform="translate(478.31,587.9) scale(0.85,1)" font-size="10.0" text-anchor="middle" fill="#231f20" stroke="#231f20">10</text>
<line x1="516.91" y1="575.2" x2="516.91" y2="578.5" stroke="#8c8c8c" stroke-width="1.1"/>
<text transform="translate(517.11,587.9) scale(0.85,1)" font-size="10.0" text-anchor="middle" fill="#231f20" stroke="#231f20">7</text>
<line x1="564.37" y1="575.2" x2="564.37" y2="578.5" stroke="#8c8c8c" stroke-width="1.1"/>
<text transform="translate(564.57,587.9) scale(0.85,1)" font-size="10.0" text-anchor="middle" fill="#231f20" stroke="#231f20">5</text>
<line x1="603.14" y1="575.2" x2="603.14" y2="578.5" stroke="#8c8c8c" stroke-width="1.1"/>
<text transform="translate(603.34,587.9) scale(0.85,1)" font-size="10.0" text-anchor="middle" fill="#231f20" stroke="#231f20">4</text>
<line x1="663.71" y1="575.2" x2="663.71" y2="578.5" stroke="#8c8c8c" stroke-width="1.1"/>
<text transform="translate(663.91,587.9) scale(0.85,1)" font-size="10.0" text-anchor="middle" fill="#231f20" stroke="#231f20">3</text>
<line x1="404.7" y1="466" x2="404.7" y2="579" stroke="#9a9a9a" stroke-width="1.1"/>
<line x1="404.2" y1="578.5" x2="676.1" y2="578.5" stroke="#9a9a9a" stroke-width="1.1"/>
<line x1="417.2" y1="573.5" x2="664.2" y2="479.3" stroke="#66a3d8" stroke-width="1.4"/>
<circle cx="663.71" cy="470.53" r="1.8" fill="#92bee5"/>
<circle cx="603.14" cy="497.26" r="1.8" fill="#92bee5"/>
<circle cx="564.37" cy="516.36" r="1.8" fill="#92bee5"/>
<circle cx="537.18" cy="528.45" r="1.8" fill="#92bee5"/>
<circle cx="516.91" cy="539.59" r="1.8" fill="#92bee5"/>
<circle cx="501.16" cy="547.55" r="1.8" fill="#92bee5"/>
<circle cx="488.51" cy="552" r="1.8" fill="#92bee5"/>
<circle cx="478.11" cy="556.93" r="1.8" fill="#92bee5"/>
<circle cx="469.38" cy="557.73" r="1.8" fill="#92bee5"/>
<circle cx="461.94" cy="559.32" r="1.8" fill="#92bee5"/>
<circle cx="455.51" cy="561.71" r="1.8" fill="#92bee5"/>
<circle cx="449.89" cy="562.66" r="1.8" fill="#92bee5"/>
<circle cx="444.93" cy="567.75" r="1.8" fill="#92bee5"/>
<circle cx="440.52" cy="568.39" r="1.8" fill="#92bee5"/>
<circle cx="436.57" cy="570.14" r="1.8" fill="#92bee5"/>
<circle cx="433" cy="571.89" r="1.8" fill="#92bee5"/>
<circle cx="429.77" cy="562.03" r="1.8" fill="#92bee5"/>
<circle cx="426.81" cy="566.16" r="1.8" fill="#92bee5"/>
<circle cx="424.11" cy="567.75" r="1.8" fill="#92bee5"/>
<circle cx="421.62" cy="562.03" r="1.8" fill="#92bee5"/>
<circle cx="419.33" cy="560.43" r="1.8" fill="#92bee5"/>
<circle cx="417.2" cy="562.66" r="1.8" fill="#92bee5"/>
<text x="370.3" y="473" font-size="11" text-anchor="start" fill="#231f20" stroke="#231f20">f)</text>
<text x="422.6" y="477.1" font-size="10" text-anchor="start" fill="#231f20" stroke="#231f20" textLength="43.4" lengthAdjust="spacingAndGlyphs">R² = 0.944</text>
<text transform="translate(380,547.6) rotate(-90)" font-size="11.2" fill="#231f20" stroke="#231f20" textLength="62.7" lengthAdjust="spacingAndGlyphs">k (patch m<tspan font-size="6" dy="-3.6">−2</tspan><tspan dy="3.6">)</tspan></text>
<text x="502.2" y="600.8" font-size="11.3" fill="#231f20" stroke="#231f20" textLength="76.7" lengthAdjust="spacingAndGlyphs">Radius (m) L<tspan font-size="6" dy="-3.6">−0.75</tspan></text>
</svg>
</body></html>
